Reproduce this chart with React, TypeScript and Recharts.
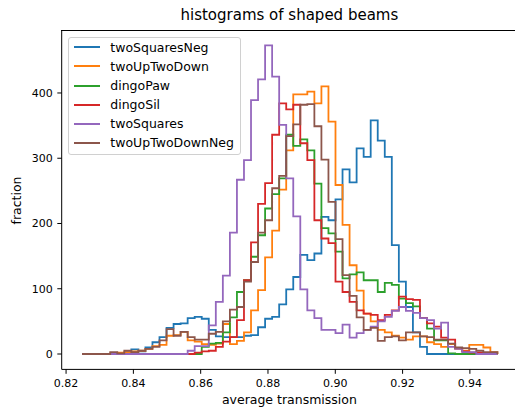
import { Line, LineChart, XAxis, YAxis } from "recharts";

// histogram bins (shared by all series)
const binStart = 0.82475;
const binWidth = 0.002092;

const seriesNames = [
  "twoSquaresNeg",
  "twoUpTwoDown",
  "dingoPaw",
  "dingoSil",
  "twoSquares",
  "twoUpTwoDownNeg",
];
const seriesColors = ["#1f77b4", "#ff7f0e", "#2ca02c", "#d62728", "#9467bd", "#8c564b"];

const twoSquaresNeg = [
  0, 0, 0, 0, 0, 0, 2, 7, 4, 10,
  18, 26, 40, 46, 47, 55, 57, 54, 37, 27,
  26, 26, 26, 28, 29, 41, 54, 57, 76, 99,
  118, 152, 144, 154, 210, 205, 237, 283, 263, 315,
  302, 358, 327, 302, 167, 111, 72, 33, 11, 0,
  0, 0, 0, 0, 0, 0, 0, 0, 0,
];
const twoUpTwoDown = [
  0, 0, 0, 0, 1, 2, 3, 4, 5, 8,
  12, 14, 28, 29, 34, 21, 19, 15, 14, 16,
  46, 15, 20, 33, 67, 98, 148, 189, 252, 312,
  398, 398, 402, 384, 410, 356, 259, 198, 136, 97,
  62, 50, 37, 33, 28, 25, 22, 27, 27, 18,
  15, 11, 15, 8, 5, 14, 14, 10, 3,
];
const dingoPaw = [
  0, 0, 0, 0, 0, 0, 0, 0, 0, 0,
  0, 0, 0, 0, 0, 0, 0, 11, 16, 17,
  33, 56, 95, 113, 149, 182, 223, 245, 269, 336,
  319, 329, 312, 261, 193, 185, 157, 116, 122, 125,
  113, 113, 95, 109, 106, 85, 78, 73, 55, 39,
  21, 21, 1, 0, 0, 0, 0, 0, 0,
];
const dingoSil = [
  0, 0, 0, 0, 0, 0, 0, 0, 0, 0,
  0, 0, 0, 0, 0, 0, 2, 4, 5, 11,
  19, 26, 52, 113, 171, 230, 262, 336, 384, 375,
  382, 323, 297, 205, 177, 170, 111, 95, 80, 67,
  62, 60, 52, 60, 67, 88, 84, 83, 55, 47,
  42, 25, 22, 9, 4, 2, 2, 1, 0,
];
const twoSquares = [
  0, 0, 0, 0, 0, 0, 0, 0, 0, 0,
  0, 0, 0, 0, 0, 5, 12, 12, 44, 80,
  120, 186, 267, 297, 389, 421, 473, 425, 351, 269,
  211, 99, 67, 55, 37, 37, 32, 45, 25, 32,
  37, 42, 50, 57, 66, 72, 66, 63, 55, 52,
  39, 48, 11, 8, 3, 3, 0, 0, 0,
];
const twoUpTwoDownNeg = [
  0, 0, 0, 0, 3, 1, 5, 3, 5, 8,
  11, 21, 38, 28, 34, 26, 22, 22, 31, 34,
  50, 68, 72, 111, 141, 186, 205, 254, 273, 334,
  352, 382, 383, 349, 298, 233, 176, 121, 89, 56,
  37, 40, 20, 26, 27, 21, 33, 33, 27, 26,
  22, 22, 16, 10, 9, 8, 5, 3, 3,
];

const xTicks = [0.82, 0.84, 0.86, 0.88, 0.9, 0.92, 0.94];
const yTicks = [0, 100, 200, 300, 400];

const counts = [twoSquaresNeg, twoUpTwoDown, dingoPaw, dingoSil, twoSquares, twoUpTwoDownNeg];

const nBins = twoSquaresNeg.length;
const edges = Array.from({ length: nBins + 1 }, (_, i) => binStart + i * binWidth);

// outline of a step histogram: up from 0 at the first edge, down to 0 at the last
const rowAt = (x: number, pick: (c: number[]) => number) => {
  const row: Record<string, number> = { x };
  seriesNames.forEach((name, k) => {
    row[name] = pick(counts[k]);
  });
  return row;
};
const rows = [
  rowAt(edges[0], () => 0),
  ...edges.slice(0, nBins).map((e, i) => rowAt(e, (c) => c[i])),
  rowAt(edges[nBins], (c) => c[nBins - 1]),
  rowAt(edges[nBins], () => 0),
];

const font = "'DejaVu Sans', sans-serif";
const tickStyle = { fontSize: 11, fill: "#000", fontFamily: font };

const App = () => {
  return (
    <div
      style={{
        position: "absolute",
        left: 0,
        top: 0,
        width: 515,
        height: 407,
        overflow: "hidden",
        background: "#fff",
        fontFamily: font,
      }}
    >
      <LineChart
        width={530}
        height={407}
        data={rows}
        margin={{ top: 30.6, right: 13, bottom: 0, left: 0 }}
      >
        <XAxis
          dataKey="x"
          type="number"
          domain={[0.8187, 0.954]}
          ticks={xTicks}
          tickFormatter={(v: number) => v.toFixed(2)}
          allowDataOverflow
          height={37.6}
          tick={tickStyle}
          tickSize={4.4}
          tickMargin={5}
          axisLine={{ stroke: "#000", strokeWidth: 1 }}
          tickLine={{ stroke: "#000", strokeWidth: 1 }}
        />
        <YAxis
          type="number"
          domain={[-23.6, 495.6]}
          ticks={yTicks}
          allowDataOverflow
          width={61.7}
          tick={tickStyle}
          tickSize={4.4}
          tickMargin={4.6}
          axisLine={{ stroke: "#000", strokeWidth: 1 }}
          tickLine={{ stroke: "#000", strokeWidth: 1 }}
        />
        {seriesNames.map((name, k) => (
          <Line
            key={name}
            dataKey={name}
            type="stepAfter"
            stroke={seriesColors[k]}
            strokeWidth={1.8}
            dot={false}
            activeDot={false}
            isAnimationActive={false}
          />
        ))}
      </LineChart>

      {/* top spine */}
      <div
        style={{
          position: "absolute",
          left: 61.2,
          top: 30.1,
          width: 470,
          height: 0,
          borderTop: "1px solid #000",
        }}
      />

      <div
        style={{
          position: "absolute",
          left: 139.4,
          width: 300,
          top: 5.8,
          lineHeight: "18px",
          fontSize: 15,
          textAlign: "center",
          color: "#000",
        }}
      >
        histograms of shaped beams
      </div>
      <div
        style={{
          position: "absolute",
          left: 139.4,
          width: 300,
          top: 391.6,
          lineHeight: "15px",
          fontSize: 12.5,
          textAlign: "center",
          color: "#000",
        }}
      >
        average transmission
      </div>
      <div
        style={{
          position: "absolute",
          left: 16 - 50,
          top: 200 - 7.5,
          width: 100,
          lineHeight: "15px",
          fontSize: 12.5,
          textAlign: "center",
          color: "#000",
          transform: "rotate(-90deg)",
        }}
      >
        fraction
      </div>

      <div
        style={{
          position: "absolute",
          left: 68,
          top: 36.7,
          width: 173,
          height: 118,
          boxSizing: "border-box",
          border: "1px solid #d0d0d0",
          borderRadius: 3,
          background: "rgba(255,255,255,0.8)",
        }}
      >
        {seriesNames.map((name, k) => (
          <div
            key={name}
            style={{
              position: "absolute",
              left: 0,
              top: 9.7 + k * 19.1 - 8,
              height: 16,
              display: "flex",
              alignItems: "center",
            }}
          >
            <div
              style={{
                marginLeft: 4.7,
                width: 26.6,
                height: 2,
                background: seriesColors[k],
              }}
            />
            <span
              style={{
                marginLeft: 10,
                fontSize: 12.5,
                color: "#000",
                whiteSpace: "nowrap",
              }}
            >
              {name}
            </span>
          </div>
        ))}
      </div>
    </div>
  );
};

export default App;
